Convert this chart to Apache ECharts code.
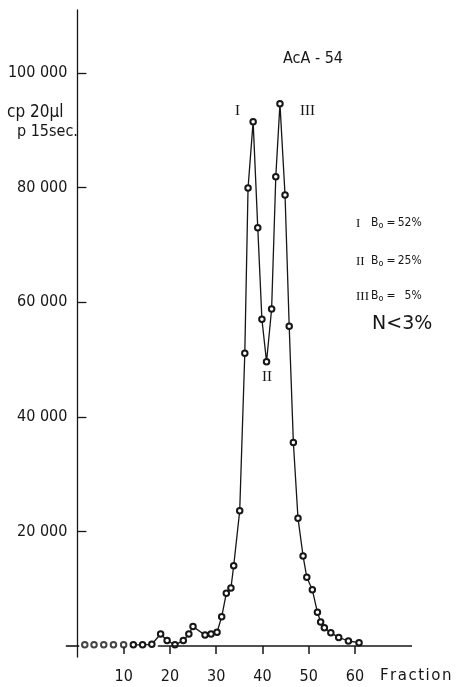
<!DOCTYPE html>
<html>
<head>
<meta charset="utf-8">
<script src="https://cdn.jsdelivr.net/npm/echarts@6/dist/echarts.min.js"></script>
<style>
html,body{margin:0;padding:0;background:#fff;}
#chart{width:458px;height:687px;}
</style>
</head>
<body>
<div id="chart"></div>
<script>
// ---- data ----
// isolated baseline fractions (not joined by a line)
const baseFractions = [1.6, 3.6, 5.7, 7.8, 10.0];
const baseCounts    = [200, 200, 200, 200, 200];
// joined elution profile
const fractions = [12.1, 14.1, 16.1, 18.0, 19.4, 21.1, 22.9, 24.1, 25.0, 27.6, 28.9, 30.2, 31.2, 32.2, 33.2, 33.8, 35.1, 36.2, 36.9, 38.0, 39.0, 39.9, 40.9, 42.0, 42.9, 43.8, 44.9, 45.8, 46.7, 47.7, 48.8, 49.6, 50.8, 51.9, 52.6, 53.4, 54.8, 56.5, 58.6, 60.9];
const counts    = [200, 200, 300, 2100, 950, 200, 950, 2100, 3400, 1900, 2100, 2400, 5100, 9200, 10100, 14000, 23600, 51100, 79900, 91500, 73000, 57000, 49600, 58800, 81900, 94600, 78700, 55800, 35500, 22300, 15700, 12000, 9800, 5900, 4200, 3200, 2300, 1500, 870, 580];
const xTickValues = [10, 20, 30, 40, 50, 60];
const yTickValues = [20000, 40000, 60000, 80000, 100000];
const legendRows = [
  {num: 'I',   pct: '52%'},
  {num: 'II',  pct: '25%'},
  {num: 'III', pct: '\u20075%'}
];

const SANS = '"Liberation Sans Narrow", "DejaVu Sans Condensed", "Liberation Sans", sans-serif';
const SERIF = '"Liberation Serif", "DejaVu Serif", serif';
const INK = '#161616';

const chart = echarts.init(document.getElementById('chart'), null, {renderer: 'canvas'});

function spaced(v) { return String(v).replace(/\B(?=(\d{3})+(?!\d))/g, ' '); }

const graphics = [
  {type: 'text', left: 283, top: 51, style: {text: 'AcA - 54', font: '16px ' + SANS, fill: INK}},
  {type: 'text', left: 7, top: 104, style: {text: 'cp 20µl', font: '17px ' + SANS, fill: INK}},
  {type: 'text', left: 17, top: 124, style: {text: 'p 15sec.', font: '16px ' + SANS, fill: INK}},
  {type: 'text', left: 380, top: 669, style: {text: 'F\u200Ar\u200Aa\u200Ac\u200At\u200Ai\u200Ao\u200An', font: '15px "DejaVu Sans", sans-serif', fill: INK}},
  {type: 'text', left: 235, top: 104, style: {text: 'I', font: '15px ' + SERIF, fill: INK}},
  {type: 'text', left: 300, top: 104, style: {text: 'III', font: '15px ' + SERIF, fill: INK}},
  {type: 'text', left: 262, top: 370, style: {text: 'II', font: '15px ' + SERIF, fill: INK}},
  {type: 'text', left: 372, top: 315, style: {text: 'N<3%', font: '19px "DejaVu Sans", sans-serif', fill: INK}}
];
const rowTops = [217, 255, 290];
legendRows.forEach((r, i) => {
  graphics.push({type: 'text', left: 356, top: rowTops[i], style: {text: r.num, font: '13px ' + SERIF, fill: INK}});
  graphics.push({type: 'text', left: 371, top: rowTops[i], style: {
    text: 'B{s|o}\u2009=\u2009' + r.pct,
    font: '12px ' + SANS, fill: INK,
    rich: {s: {font: '9px ' + SANS, fill: INK, verticalAlign: 'bottom', padding: [5, 1, 0, 0]}}
  }});
});

const option = {
  animation: false,
  backgroundColor: '#fff',
  grid: {left: 63.5, right: 46, top: 10, bottom: 30, containLabel: false, outerBoundsMode: 'none'},
  xAxis: {
    type: 'value', min: -3, max: 72.35,
    splitLine: {show: false},
    axisLine: {show: false, onZero: true},
    axisTick: {show: true, inside: false, length: 8, customValues: xTickValues, lineStyle: {color: INK, width: 1.5}},
    axisLabel: {show: true, customValues: xTickValues, margin: 12, fontSize: 16, fontFamily: SANS, color: INK}
  },
  yAxis: {
    type: 'value', min: -1920, max: 110980,
    offset: -13.9,
    splitLine: {show: false},
    axisLine: {show: true, onZero: false, lineStyle: {color: INK, width: 1.3}},
    axisTick: {show: true, inside: true, length: 9, customValues: yTickValues, lineStyle: {color: INK, width: 1.3}},
    axisLabel: {show: true, customValues: yTickValues, margin: 10, fontSize: 16, fontFamily: SANS, color: INK, formatter: spaced}
  },
  series: [
    {
      type: 'scatter',
      data: baseFractions.map((x, i) => [x, baseCounts[i]]),
      symbol: 'emptyCircle', symbolSize: 5.5,
      itemStyle: {color: INK, borderColor: INK, borderWidth: 1.2},
      z: 3
    },
    {
      type: 'line',
      data: fractions.map((x, i) => [x, counts[i]]),
      symbol: 'emptyCircle', symbolSize: 5.5, showAllSymbol: true,
      lineStyle: {color: INK, width: 1.3},
      itemStyle: {color: INK, borderColor: INK, borderWidth: 1.2},
      clip: false,
      z: 3,
      markLine: {
        silent: true, symbol: ['none', 'none'], label: {show: false},
        lineStyle: {color: INK, width: 1.6, type: 'solid'},
        emphasis: {disabled: true},
        data: [
          [{coord: [17.4, 0]}, {coord: [72.35, 0]}],
          [{coord: [-2.5, 0]}, {coord: [0.4, 0]}]
        ]
      }
    }
  ],
  graphic: graphics
};
chart.setOption(option);
</script>
</body>
</html>
